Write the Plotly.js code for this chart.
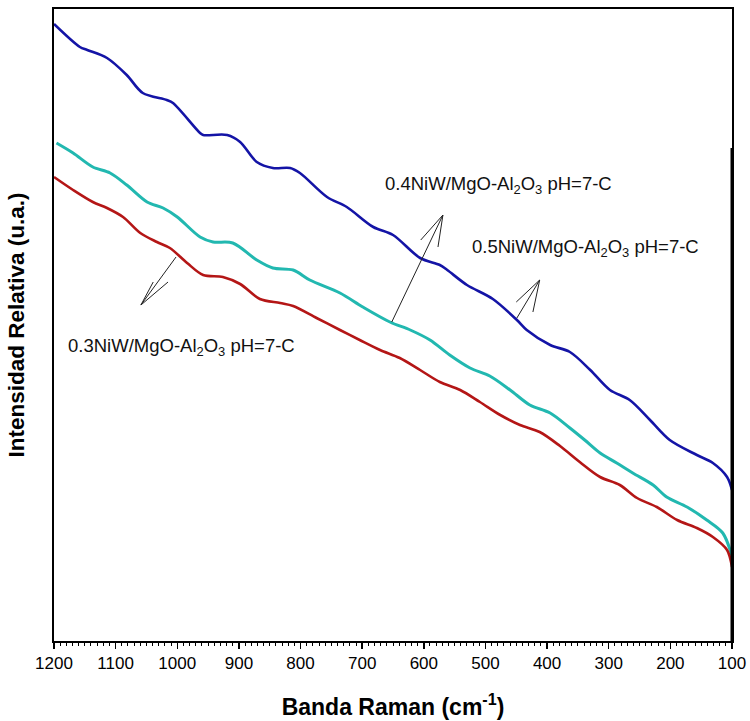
<!DOCTYPE html>
<html>
<head>
<meta charset="utf-8">
<script src="https://cdn.plot.ly/plotly-3.0.1.min.js"></script>
<style>html,body{margin:0;padding:0;background:#fff;}#chart{width:750px;height:721px;}</style>
</head>
<body>
<div id="chart"></div>
<script>
// Raman shift (cm-1) and relative intensity (a.u.)
const wnBlue = [1200,1158,1146,1114,1082,1056,1017,1007,963,958,919,898,871,845,817,801,757,725,682,650,606,574,562,530,488,449,433,395,363,330,298,266,233,201,157,131,108,100];
const intBlue = [617,594,591,583,566,548,541,538,508,506,506,499,479,473,473,468,444,434,414,406,383,376,371,356,342,321,311,296,289,271,251,241,221,201,186,178,164,151];

const wnCyan = [1196,1169,1137,1109,1082,1049,1023,1000,963,942,910,871,845,812,785,736,699,655,622,590,558,525,493,460,428,395,363,339,314,287,261,228,206,173,141,115,100];
const intCyan = [498,488,474,468,456,439,433,424,404,399,398,381,373,371,361,348,334,319,311,301,286,273,265,251,236,228,213,201,188,178,168,156,144,134,121,108,85];

const wnRed = [1200,1169,1137,1114,1088,1060,1033,1012,984,958,926,898,866,833,812,774,736,704,671,639,606,574,541,509,476,444,412,379,347,314,282,254,222,189,157,131,108,100];
const intRed = [464,451,439,433,424,408,399,393,378,366,364,357,342,338,335,323,311,301,291,283,271,259,251,239,226,216,209,195,179,164,156,143,134,121,113,104,91,74];

const seriesNames = ["0.4NiW/MgO-Al2O3 pH=7-C","0.5NiW/MgO-Al2O3 pH=7-C","0.3NiW/MgO-Al2O3 pH=7-C"];
const tickVals = [1200,1100,1000,900,800,700,600,500,400,300,200,100];

const traces = [
  {x: wnBlue, y: intBlue, name: seriesNames[0], mode: 'lines', line: {color: '#1414a6', width: 2.6, shape: 'spline', smoothing: 0.9}},
  {x: wnCyan, y: intCyan, name: seriesNames[1], mode: 'lines', line: {color: '#22b8b0', width: 3, shape: 'spline', smoothing: 0.9}},
  {x: wnRed, y: intRed, name: seriesNames[2], mode: 'lines', line: {color: '#b41616', width: 2.6, shape: 'spline', smoothing: 0.9}}
];

const FONT = '"Liberation Sans", Arial, sans-serif';
const annFont = {family: FONT, size: 18.5, color: '#111'};
function arrowPath(tail, tip, w1, w2) {
  return `M${tail[0]},${tail[1]} L${tip[0]},${tip[1]} M${w1[0]},${w1[1]} L${tip[0]},${tip[1]} L${w2[0]},${w2[1]}`;
}
const arrowLine = {color: '#222', width: 1};

const layout = {
  width: 750, height: 721,
  margin: {l: 54, r: 18, t: 9, b: 80},
  paper_bgcolor: '#fff', plot_bgcolor: '#fff',
  showlegend: false,
  font: {family: FONT, color: '#000'},
  xaxis: {
    range: [1200, 100], tickvals: tickVals, ticktext: tickVals.map(String),
    ticks: 'outside', ticklen: 6, tickwidth: 1.5, tickcolor: '#000',
    minor: {dtick: 10, tick0: 0, ticks: 'outside', ticklen: 3, tickwidth: 1, tickcolor: '#000', showgrid: false},
    showline: true, linecolor: '#000', linewidth: 2, mirror: true,
    showgrid: false, zeroline: false,
    tickfont: {family: FONT, size: 17, color: '#000'},
    title: {text: 'Banda Raman (cm<sup>-1</sup>)', font: {family: FONT, size: 23, color: '#000', weight: 'bold'}, standoff: 26}
  },
  yaxis: {
    range: [0, 632], showticklabels: false, ticks: '',
    showline: true, linecolor: '#000', linewidth: 2, mirror: true,
    showgrid: false, zeroline: false,
    title: {text: 'Intensidad Relativa (u.a.)', font: {family: FONT, size: 22.5, color: '#000', weight: 'bold'}, standoff: 21}
  },
  annotations: [
    {x: 1180, y: 294, xref: 'x', yref: 'y', xanchor: 'left', yanchor: 'middle', showarrow: false,
     text: '0.3NiW/MgO-Al<sub>2</sub>O<sub>3</sub> pH=7-C', font: annFont},
    {x: 666, y: 456, xref: 'x', yref: 'y', xanchor: 'left', yanchor: 'middle', showarrow: false,
     text: '0.4NiW/MgO-Al<sub>2</sub>O<sub>3</sub> pH=7-C', font: annFont},
    {x: 525, y: 393, xref: 'x', yref: 'y', xanchor: 'left', yanchor: 'middle', showarrow: false,
     text: '0.5NiW/MgO-Al<sub>2</sub>O<sub>3</sub> pH=7-C', font: annFont}
  ],
  shapes: [
    {type: 'path', xref: 'x', yref: 'y', path: arrowPath([1002,384],[1059,336],[1039,359],[1015,359]), line: arrowLine},
    {type: 'path', xref: 'x', yref: 'y', path: arrowPath([652,319],[569,426],[605,401],[577,394]), line: arrowLine},
    {type: 'path', xref: 'x', yref: 'y', path: arrowPath([449,323],[412,361],[450,339],[423,329]), line: arrowLine},
    {type: 'line', xref: 'x', yref: 'y', x0: 100, x1: 100, y0: 0, y1: 493, line: {color: '#000', width: 3}}
  ]
};

Plotly.newPlot('chart', traces, layout, {staticPlot: true, displayModeBar: false});
</script>
</body>
</html>
